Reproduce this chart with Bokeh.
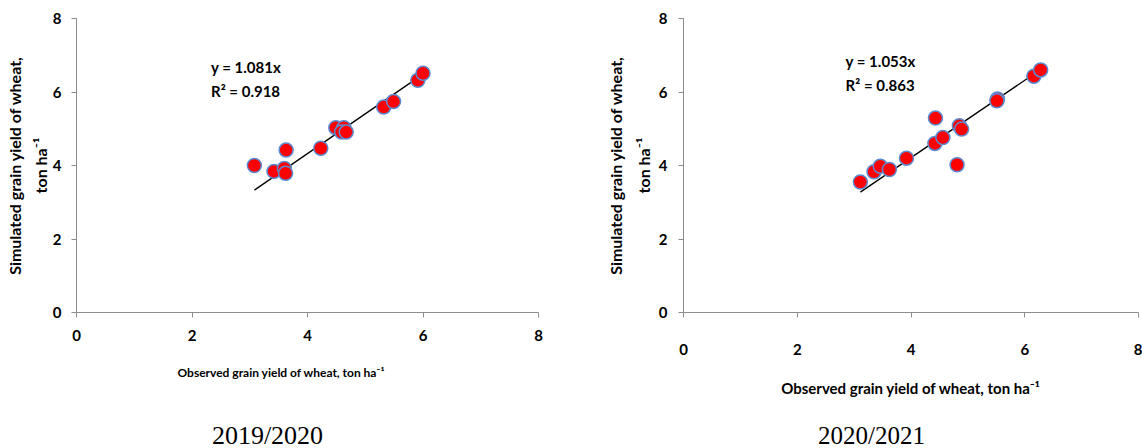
from bokeh.plotting import figure
from bokeh.layouts import row, column
from bokeh.models import Range1d, Label, FixedTicker, Title
from bokeh.core.properties import value
from bokeh.embed import file_html
from bokeh.resources import INLINE

# Observed vs simulated wheat grain yield (ton/ha), two seasons
obs_2019 = [3.08, 3.42, 3.60, 3.62, 3.63, 4.23, 4.49, 4.63, 4.59, 4.67, 5.32, 5.49, 5.91, 6.00]
sim_2019 = [4.00, 3.84, 3.92, 3.79, 4.42, 4.47, 5.03, 5.03, 4.91, 4.91, 5.59, 5.74, 6.32, 6.51]
slope_2019 = 1.081
r2_2019 = 0.918

obs_2020 = [3.11, 3.35, 3.46, 3.62, 3.92, 4.42, 4.56, 4.43, 4.85, 4.89, 4.81, 5.52, 5.51, 6.16, 6.28]
sim_2020 = [3.55, 3.83, 3.98, 3.89, 4.20, 4.60, 4.76, 5.29, 5.08, 4.99, 4.02, 5.81, 5.76, 6.43, 6.60]
slope_2020 = 1.053
r2_2020 = 0.863

axis_ticks = [0, 2, 4, 6, 8]
season_labels = ["2019/2020", "2020/2021"]
x_title = "Observed grain yield of wheat, ton ha\u207b\u00b9"
y_title = "Simulated grain yield of wheat,\nton ha\u207b\u00b9"

FONT = "Lato"
AXIS_GREY = "#8c8c8c"
PANEL_W = 571
MAIN_H = 419
CAPTION_H = 448 - MAIN_H


def panel(obs, sim, slope, r2, border, tick_standoff, xt, yt, eq_pos):
    left, right, top, bottom = border
    p = figure(width=PANEL_W, height=MAIN_H, output_backend="svg", toolbar_location=None,
               x_range=Range1d(0, 8), y_range=Range1d(0, 8),
               min_border_left=left, min_border_right=right,
               min_border_top=top, min_border_bottom=bottom)
    p.outline_line_color = None
    p.grid.visible = False
    p.background_fill_color = "white"
    p.border_fill_color = "white"

    for ax in (p.xaxis[0], p.yaxis[0]):
        ax.ticker = FixedTicker(ticks=axis_ticks)
        ax.axis_line_color = AXIS_GREY
        ax.major_tick_line_color = AXIS_GREY
        ax.minor_tick_line_color = None
        ax.major_tick_in = 0
        ax.major_tick_out = 5
        ax.major_label_text_font = FONT
        ax.major_label_text_font_style = "bold"
        ax.major_label_text_font_size = "15px"
        ax.major_label_text_color = "black"
        ax.axis_label_text_font = FONT
        ax.axis_label_text_font_style = "bold"
        ax.axis_label_text_color = "black"

    xa, ya = p.xaxis[0], p.yaxis[0]
    xa.major_label_standoff = tick_standoff

    ya.major_label_standoff = yt["tick_standoff"]
    ya.axis_label = y_title
    ya.axis_label_text_font_size = "16px"
    ya.axis_label_text_line_height = yt["line_height"]
    ya.axis_label_standoff = yt["standoff"]

    if xt.get("offset") is None:
        # title centred under the axis
        xa.axis_label = x_title
        xa.axis_label_text_font_size = xt["size"]
        xa.axis_label_standoff = xt["standoff"]
    else:
        # title starting a fixed distance in from the left end of the axis
        p.add_layout(Title(text=x_title, text_font=FONT, text_font_style="bold",
                           text_font_size=xt["size"], text_color="black",
                           align="left", offset=xt["offset"], vertical_align="top",
                           standoff=xt["standoff"]), "below")

    # regression line through the origin, spanning the observed range
    x0, x1 = min(obs), max(obs)
    p.line([x0, x1], [slope * x0, slope * x1], line_color="black", line_width=1.3)

    p.scatter(obs, sim, size=14, marker="circle", fill_color="#ff0000",
              line_color="#5b8bd0", line_width=1.5)

    ex, ey1, ey2 = eq_pos
    for txt, yy in ((f"y = {slope:.3f}x", ey1), (f"R\u00b2 = {r2:.3f}", ey2)):
        p.add_layout(Label(x=ex, y=yy, text=txt, text_font=FONT, text_font_style="bold",
                           text_font_size="15px", text_color="black",
                           text_align="left", text_baseline="middle"))
    return p


def caption(text, cx, size):
    c = figure(width=PANEL_W, height=CAPTION_H, output_backend="svg", toolbar_location=None,
               x_range=Range1d(0, PANEL_W), y_range=Range1d(0, CAPTION_H),
               min_border=0)
    c.axis.visible = False
    c.grid.visible = False
    c.outline_line_color = None
    c.border_fill_color = "white"
    c.text(x=[cx], y=[13.5], text=[text], text_font=value("Liberation Serif"),
           text_font_size=size, text_color="black",
           text_align="center", text_baseline="middle")
    return c


p1 = panel(obs_2019, sim_2019, slope_2019, r2_2019, (76, 33, 17, MAIN_H - 17 - 295), 12,
           {"size": "12px", "offset": 101, "standoff": 42},
           {"line_height": 1.35, "standoff": 0, "tick_standoff": 10},
           (2.33, 6.67, 6.04))
p2 = panel(obs_2020, sim_2020, slope_2020, r2_2020, (112, 4, 18, MAIN_H - 18 - 298), 26,
           {"size": "15px", "offset": None, "standoff": 21},
           {"line_height": 1.45, "standoff": 3, "tick_standoff": 11},
           (2.85, 6.84, 6.19))

c1 = caption(season_labels[0], 267, "26px")
c2 = caption(season_labels[1], 300, "25px")

layout = column(row(p1, p2, spacing=0), row(c1, c2, spacing=0), spacing=0)
open("out.html", "w").write(file_html(layout, INLINE))
